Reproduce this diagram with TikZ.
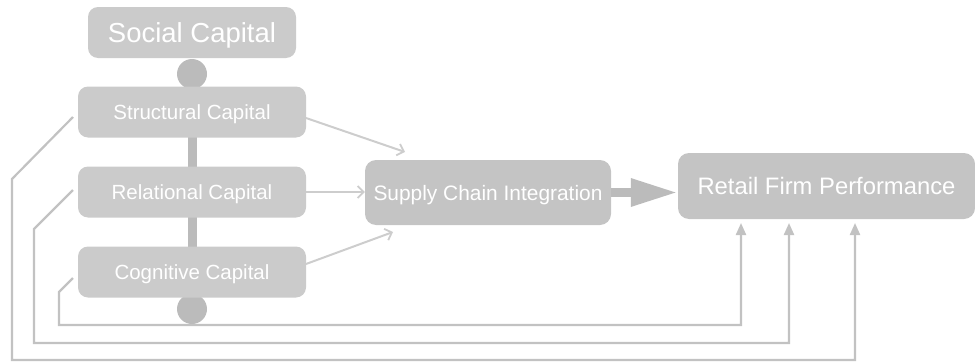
\documentclass[tikz,border=0pt]{standalone}
\usepackage{fontspec}
\setmainfont{Liberation Sans}
\usetikzlibrary{arrows.meta}
\definecolor{boxgray}{HTML}{CBCBCB}
\definecolor{boxdark}{HTML}{C4C4C4}
\definecolor{dotgray}{HTML}{BBBBBB}
\definecolor{linegray}{HTML}{C2C2C2}
\definecolor{arrgray}{HTML}{CDCDCD}
\tikzset{
  capbox/.style={fill=boxgray, rounded corners=10pt, minimum width=228pt, minimum height=51pt, inner sep=0pt, text depth=0pt, text=white, font=\fontsize{20.5}{24}\selectfont},
  mainbox/.style={fill=boxdark, rounded corners=11pt, inner sep=0pt, text depth=0pt, text=white},
  dotnode/.style={circle, fill=dotgray, minimum size=30pt, inner sep=0pt},
  fb/.style={draw=linegray, line width=2.2pt, -{Triangle[length=12pt,width=10pt]}},
  tosci/.style={draw=arrgray, line width=2pt, -{Straight Barb[length=6pt,width=12pt,line width=1.8pt]}},
  bar/.style={draw=dotgray, line width=9pt}
}
\begin{document}
\begin{tikzpicture}[x=1pt,y=-1pt]
\useasboundingbox (0,0) rectangle (975,364);
% circles and bars behind boxes
\node[dotnode] (d1) at (192,74) {};
\node[dotnode] (d2) at (192,309) {};
\coordinate (b1) at (192,130);
\coordinate (b2) at (192,172);
\coordinate (b3) at (192,210);
\coordinate (b4) at (192,252);
\draw[bar] (b1) -- (b2);
\draw[bar] (b3) -- (b4);
% boxes
\node[fill=boxgray, rounded corners=10pt, minimum width=208pt, minimum height=51pt, inner sep=0pt, text depth=0pt, text=white, font=\fontsize{27.5}{32}\selectfont] (soc) at (192,32.5) {Social Capital};
\node[capbox] (str) at (192,112) {Structural Capital};
\node[capbox] (rel) at (192,192) {Relational Capital};
\node[capbox] (cog) at (192,272) {Cognitive Capital};
\node[mainbox, minimum width=246pt, minimum height=65pt, font=\fontsize{20.9}{24}\selectfont] (sci) at (488,192.5) {Supply Chain Integration};
\node[mainbox, minimum width=297pt, minimum height=66pt, font=\fontsize{23.8}{28}\selectfont] (rfp) at (826.5,186) {Retail Firm Performance};
% arrows into supply chain integration
\coordinate (s1) at (306,118);
\coordinate (t1) at (405,152);
\coordinate (s3) at (306,264);
\coordinate (t3) at (393,232);
\draw[tosci] (s1) -- (t1);
\draw[tosci] (rel.east) -- (rel.east -| sci.west);
\draw[tosci] (s3) -- (t3);
% big arrow
\draw[draw=dotgray, line width=9pt, -{Triangle[length=47pt,width=26pt]}] (sci.east) -- (sci.east -| rfp.west);
% feedback paths
\coordinate (c1) at (73,278);
\coordinate (c2) at (73,190);
\coordinate (c3) at (73,117);
\coordinate (r1) at (741,223);
\coordinate (r2) at (789,223);
\coordinate (r3) at (855,223);
\draw[fb] (c1) -- (59,292) -- (59,325) -| (r1);
\draw[fb] (c2) -- (34,229) -- (34,343) -| (r2);
\draw[fb] (c3) -- (12,179) -- (12,360) -| (r3);
\end{tikzpicture}
\end{document}
